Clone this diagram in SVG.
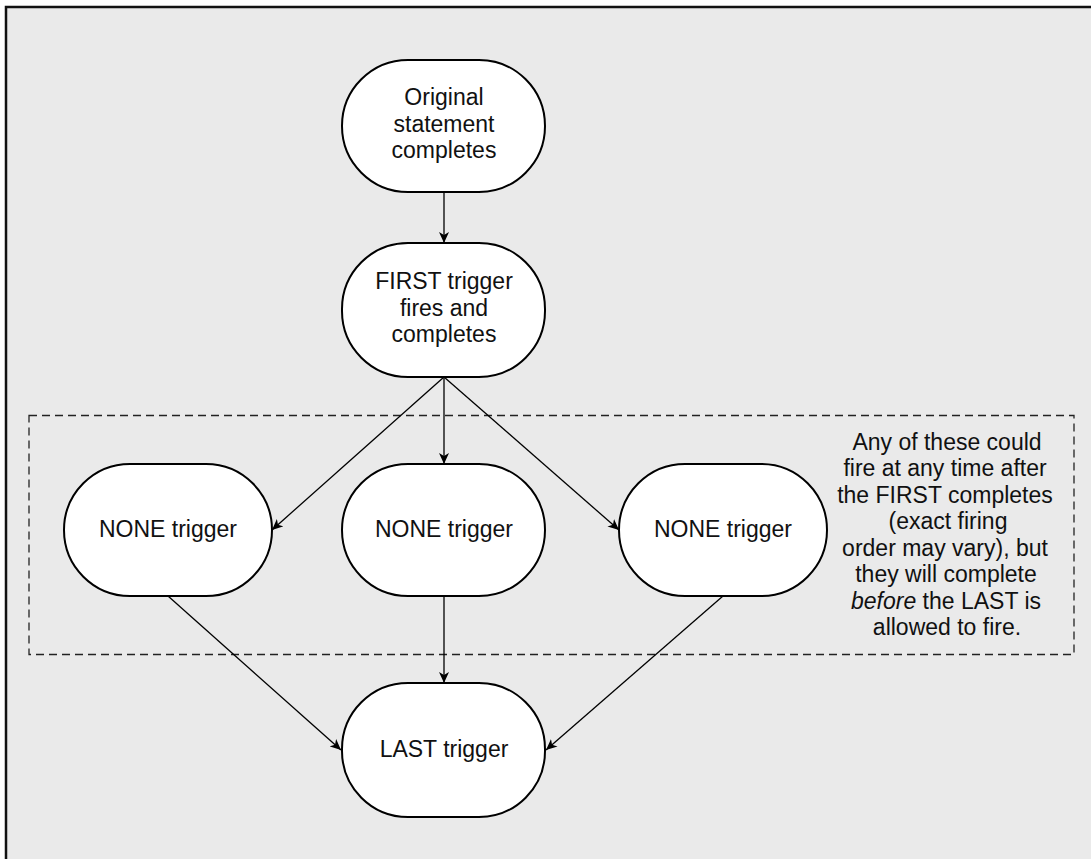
<svg xmlns="http://www.w3.org/2000/svg" width="1091" height="859" viewBox="0 0 1091 859">
<style>
.node{fill:#fff;stroke:#000;stroke-width:2}
.t{font-family:"Liberation Sans",Arial,sans-serif;font-size:23px;fill:#111;text-anchor:middle}
.c{stroke:#000;stroke-width:1.3;fill:none;marker-end:url(#ah)}
</style>
<defs>
<marker id="ah" markerWidth="12" markerHeight="10" refX="11" refY="5" orient="auto" markerUnits="userSpaceOnUse">
<path d="M0,0 L11,5 L0,10 L3,5 Z" fill="#000"/>
</marker>
</defs>
<rect x="6" y="7" width="1100" height="870" fill="#eaeaea" stroke="#111" stroke-width="2.5"/>
<rect id="group-box" x="29" y="415.5" width="1045" height="239" fill="none" stroke="#222" stroke-width="1.3" stroke-dasharray="8,5"/>
<g id="connectors">
<line class="c" x1="444" y1="192" x2="444" y2="243"/>
<line class="c" x1="444" y1="377" x2="444" y2="464"/>
<line class="c" x1="444" y1="377" x2="272" y2="530"/>
<line class="c" x1="444" y1="377" x2="619" y2="530"/>
<line class="c" x1="168" y1="596" x2="341" y2="750"/>
<line class="c" x1="444" y1="596" x2="444" y2="683"/>
<line class="c" x1="723" y1="596" x2="546" y2="750"/>
</g>
<g id="n-original">
<rect class="node" x="342" y="60" width="203" height="132" rx="66" ry="66"/>
<text class="t" x="444" y="105">Original</text>
<text class="t" x="444" y="132">statement</text>
<text class="t" x="444" y="158">completes</text>
</g>
<g id="n-first">
<rect class="node" x="342" y="243" width="203" height="134" rx="66" ry="66"/>
<text class="t" x="444" y="289">FIRST trigger</text>
<text class="t" x="444" y="316">fires and</text>
<text class="t" x="444" y="342">completes</text>
</g>
<g id="n-none1">
<rect class="node" x="64" y="464" width="208" height="132" rx="66" ry="66"/>
<text class="t" x="168" y="537">NONE trigger</text>
</g>
<g id="n-none2">
<rect class="node" x="342" y="464" width="203" height="132" rx="66" ry="66"/>
<text class="t" x="444" y="537">NONE trigger</text>
</g>
<g id="n-none3">
<rect class="node" x="619" y="464" width="208" height="132" rx="66" ry="66"/>
<text class="t" x="723" y="537">NONE trigger</text>
</g>
<g id="n-last">
<rect class="node" x="342" y="683" width="203" height="134" rx="66" ry="66"/>
<text class="t" x="444" y="757">LAST trigger</text>
</g>
<g id="note">
<text class="t" x="947" y="450">Any of these could</text>
<text class="t" x="945" y="476">fire at any time after</text>
<text class="t" x="945" y="503">the FIRST completes</text>
<text class="t" x="948" y="529">(exact firing</text>
<text class="t" x="945" y="556">order may vary), but</text>
<text class="t" x="946" y="582">they will complete</text>
<text class="t" x="946" y="609"><tspan font-style="italic">before</tspan> the LAST is</text>
<text class="t" x="947" y="635">allowed to fire.</text>
</g>
</svg>
